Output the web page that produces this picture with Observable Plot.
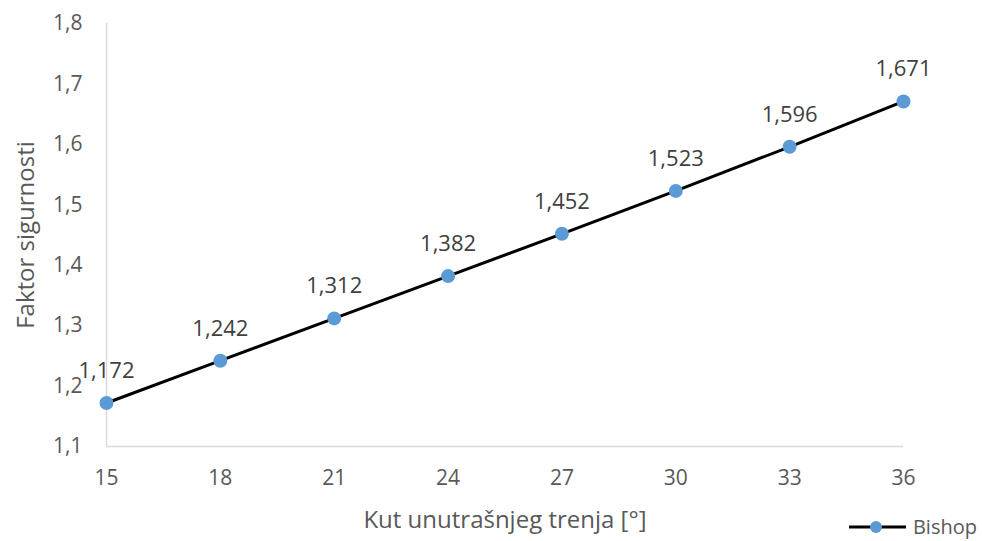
<!DOCTYPE html>
<html>
<head>
<meta charset="utf-8">
<script src="https://cdn.jsdelivr.net/npm/d3@7"></script>
<script src="https://cdn.jsdelivr.net/npm/@observablehq/plot@0.6"></script>
<style>
  html, body { margin: 0; padding: 0; background: #fff; }
  #wrap { position: relative; width: 982px; height: 541px; font-family: "Open Sans", sans-serif; }
  #legend { position: absolute; right: 5px; top: 516px; height: 22px; display: flex; align-items: center; font-size: 20px; color: #595959; line-height: 22px; white-space: nowrap; }
</style>
</head>
<body>
<div id="wrap"></div>
<script>
const angles = [15, 18, 21, 24, 27, 30, 33, 36];
const bishop = [1.172, 1.242, 1.312, 1.382, 1.452, 1.523, 1.596, 1.671];
const yTicks = [1.1, 1.2, 1.3, 1.4, 1.5, 1.6, 1.7, 1.8];
const seriesName = "Bishop";
const xTitle = "Kut unutrašnjeg trenja [°]";
const yTitle = "Faktor sigurnosti";

const data = angles.map((a, i) => ({ x: a, y: bishop[i] }));
const comma = (v, d) => v.toFixed(d).replace(".", ",");

const chart = Plot.plot({
  width: 982,
  height: 541,
  marginLeft: 106,
  marginRight: 79,
  marginTop: 23,
  marginBottom: 95,
  style: { fontFamily: "Open Sans, sans-serif", fontSize: "21px", color: "#595959", background: "#fff" },
  x: { domain: [15, 36] },
  y: { domain: [1.1, 1.8] },
  marks: [
    Plot.ruleX([15], { stroke: "#d9d9d9", strokeWidth: 1.5 }),
    Plot.ruleY([1.1], { stroke: "#d9d9d9", strokeWidth: 1.5 }),
    Plot.axisX(angles, { tickSize: 0, tickPadding: 24, fontSize: 21, fill: "#595959", label: null }),
    Plot.axisY(yTicks, { tickSize: 0, tickPadding: 24, fontSize: 21, fill: "#595959",
      tickFormat: d => comma(d, 1), label: null }),
    Plot.text([xTitle], { frameAnchor: "bottom", dy: 74, fontSize: 24, fill: "#595959", lineAnchor: "middle" }),
    Plot.text([yTitle], { frameAnchor: "left", dx: -80, rotate: -90, fontSize: 24, fill: "#595959", textAnchor: "middle", lineAnchor: "middle" }),
    Plot.line(data, { x: "x", y: "y", stroke: "#000", strokeWidth: 3 }),
    Plot.dot(data, { x: "x", y: "y", r: 7, fill: "#5b9bd5", stroke: "none" }),
    Plot.text(data, { x: "x", y: "y", text: d => comma(d.y, 3), dy: -32, fontSize: 22, fill: "#404040" })
  ]
});
document.getElementById("wrap").appendChild(chart);

const legend = document.createElement("div");
legend.id = "legend";
legend.innerHTML = `<svg width="60" height="16"><line x1="0" y1="8" x2="57" y2="8" stroke="#000" stroke-width="3"/><circle cx="27" cy="8" r="6" fill="#5b9bd5"/></svg><span style="margin-left:4px">${seriesName}</span>`;
document.getElementById("wrap").appendChild(legend);
</script>
</body>
</html>
